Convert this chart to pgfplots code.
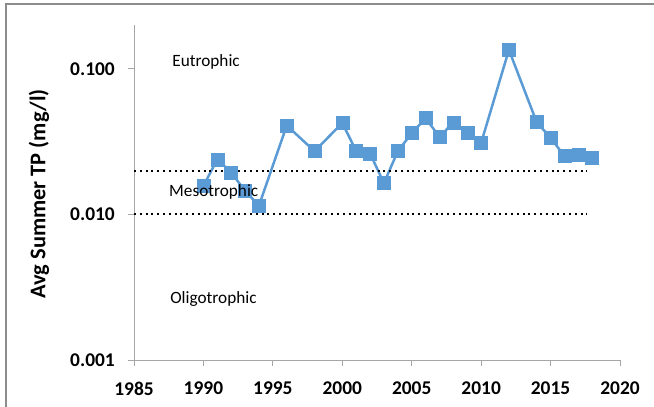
\documentclass[border=0pt]{standalone}
\usepackage{pgfplots}
\pgfplotsset{compat=1.18}
\usepackage{fontspec}
\setmainfont{Carlito}
\definecolor{tpblue}{HTML}{5B9BD5}
\definecolor{axgray}{HTML}{A6A6A6}
\definecolor{framegray}{HTML}{8C8C8C}

\pgfplotstableread{
year tp
1990 0.0157
1991 0.0239
1992 0.0194
1993 0.0145
1994 0.0115
1996 0.0408
1998 0.0272
2000 0.0424
2001 0.0273
2002 0.0262
2003 0.0164
2004 0.0272
2005 0.0361
2006 0.0458
2007 0.0341
2008 0.0429
2009 0.0364
2010 0.0310
2012 0.1350
2014 0.0430
2015 0.0336
2016 0.0251
2017 0.0257
2018 0.0246
}\tpdata

\begin{document}
\begin{tikzpicture}
\useasboundingbox (0bp,0bp) rectangle (654bp,407bp);
\draw[color=framegray, line width=1.5bp] (6bp,0bp) -- (6bp,403bp) -- (654bp,403bp);
\begin{axis}[
  at={(134bp,47bp)}, anchor=south west,
  width=486bp, height=335bp, scale only axis,
  ymode=log, ymin=0.001, ymax=0.2,
  xmin=1985, xmax=2020,
  xtick={1985,1990,1995,2000,2005,2010,2015,2020},
  xticklabels={1985,1990,1995,2000,2005,2010,2015,2020},
  ytick={0.001,0.01,0.1},
  yticklabels={0.001,0.010,0.100},
  yminorticks=false, xminorticks=false,
  axis x line*=bottom, axis y line*=left,
  axis line style={axgray, line width=1bp},
  tick style={axgray, line width=1bp},
  tick align=outside, major tick length=6bp,
  xticklabel style={font=\bfseries\fontsize{19.5}{20}\selectfont, anchor=north, inner sep=0pt, yshift=-15.5bp},
  yticklabel style={font=\bfseries\fontsize{19.5}{20}\selectfont, anchor=east, inner sep=0pt, xshift=-13bp},
  ylabel={Avg Summer TP (mg/l)},
  every axis y label/.style={at={(axis description cs:-0.1955,0.4955)}, rotate=90, anchor=center, font=\bfseries\fontsize{22.5}{24}\selectfont},
  clip=false,
]
\addplot[tpblue, line width=2.5bp, mark=square*, mark size=6.5bp, mark options={fill=tpblue, draw=tpblue, line width=0.5bp}] table[x=year, y=tp] {\tpdata};
\addplot[black, line width=2bp, dash pattern=on 2bp off 3.8bp] coordinates {(1985,0.02) (2017.6,0.02)};
\addplot[black, line width=2bp, dash pattern=on 2bp off 3.8bp] coordinates {(1985,0.01) (2017.6,0.01)};
\coordinate (eu) at (axis cs:1987.75,0.1043);
\coordinate (me) at (axis cs:1987.52,0.0132);
\coordinate (ol) at (axis cs:1987.6,0.00246);
\end{axis}
\node[anchor=base west, inner sep=0pt, font=\fontsize{17.3}{18}\selectfont] at (eu) {Eutrophic};
\node[anchor=base west, inner sep=0pt, font=\fontsize{17.3}{18}\selectfont] at (me) {Mesotrophic};
\node[anchor=base west, inner sep=0pt, font=\fontsize{17.3}{18}\selectfont] at (ol) {Oligotrophic};
\end{tikzpicture}
\end{document}
